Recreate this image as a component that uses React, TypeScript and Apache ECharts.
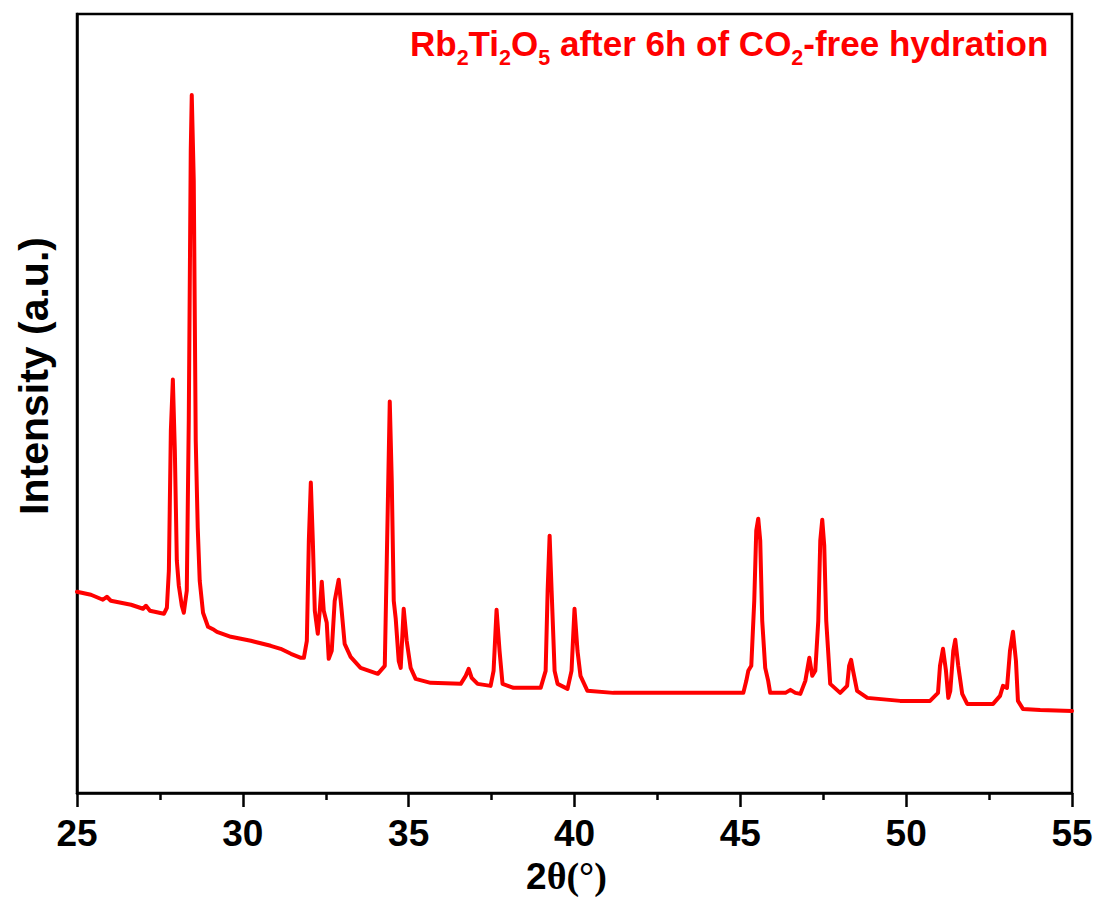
import React, { useEffect, useRef } from "react";
import * as echarts from "echarts";

// 2θ (degrees) positions of the sampled pattern
const twoTheta: number[] = [
  25.0, 25.42, 25.78, 25.9, 26.02, 26.63, 26.99, 27.08, 27.2, 27.62,
  27.71, 27.77, 27.83, 27.89, 27.95, 28.01, 28.07, 28.16, 28.22, 28.31,
  28.37, 28.43, 28.46, 28.52, 28.58, 28.64, 28.7, 28.8, 28.95, 29.13,
  29.22, 29.64, 30.24, 30.84, 31.14, 31.45, 31.75, 31.84, 31.93, 31.99,
  32.05, 32.11, 32.17, 32.26, 32.32, 32.38, 32.44, 32.53, 32.59, 32.68,
  32.77, 32.89, 32.98, 33.07, 33.25, 33.55, 34.07, 34.28, 34.34, 34.43,
  34.49, 34.55, 34.61, 34.7, 34.76, 34.85, 34.94, 35.06, 35.21, 35.66,
  36.57, 36.72, 36.81, 36.9, 37.08, 37.47, 37.56, 37.65, 37.74, 37.83,
  38.16, 38.98, 39.13, 39.19, 39.25, 39.31, 39.4, 39.49, 39.79, 39.91,
  40.0, 40.09, 40.18, 40.39, 41.17, 42.29, 43.8, 45.09, 45.18, 45.24,
  45.33, 45.42, 45.48, 45.54, 45.6, 45.66, 45.75, 45.84, 45.9, 46.36,
  46.51, 46.66, 46.81, 46.96, 47.08, 47.17, 47.26, 47.35, 47.41, 47.47,
  47.53, 47.59, 47.71, 48.01, 48.22, 48.28, 48.34, 48.4, 48.52, 48.83,
  49.82, 50.72, 50.96, 51.02, 51.11, 51.2, 51.27, 51.33, 51.42, 51.48,
  51.57, 51.69, 51.84, 52.62, 52.83, 52.92, 53.04, 53.13, 53.22, 53.31,
  53.37, 53.52, 54.04, 55.0,
];

// Intensity (a.u.) at each 2θ position
const intensity: number[] = [
  201, 198, 193, 196, 192, 188, 184, 187, 182, 179,
  185, 222, 362, 413, 342, 232, 207, 187, 180, 202,
  372, 642, 697, 612, 352, 265, 212, 180, 166, 163,
  161, 156, 152, 147, 144, 139, 135, 135, 152, 252,
  310, 252, 182, 159, 182, 211, 182, 170, 134, 142,
  192, 213, 182, 149, 136, 125, 119, 127, 232, 391,
  312, 192, 174, 132, 125, 184, 152, 125, 114, 110,
  109, 117, 124, 115, 109, 107, 122, 183, 142, 109,
  105, 105, 122, 202, 257, 202, 122, 109, 104, 122,
  184, 142, 117, 102, 100, 100, 100, 100, 112, 122,
  127, 192, 262, 274, 252, 172, 125, 112, 100, 100,
  103, 100, 99, 112, 135, 117, 122, 172, 252, 273,
  247, 172, 109, 100, 107, 127, 133, 122, 102, 95,
  92, 92, 100, 127, 144, 122, 95, 102, 142, 153,
  127, 99, 89, 89, 97, 107, 105, 142, 161, 132,
  92, 84, 83, 82,
];

const xTicks = { min: 25, max: 55, interval: 5 };
const yRange = { min: 0, max: 778 };
const yTitle = "Intensity (a.u.)";

export default function App() {
  const ref = useRef<HTMLDivElement>(null);

  useEffect(() => {
    if (!ref.current) return;
    const chart = echarts.init(ref.current, null, { renderer: "svg" });
    const data = twoTheta.map((x, i) => [x, intensity[i]]);
    const sans = "'Liberation Sans', Arial, sans-serif";
    const serif = "'Liberation Serif', 'Times New Roman', serif";

    chart.setOption({
      animation: false,
      backgroundColor: "#ffffff",
      title: {
        left: 410,
        top: 18,
        padding: 0,
        text:
          "{n|Rb}{s|2}{n|Ti}{s|2}{n|O}{s|5}{n| after 6h of CO}{s|2}{n|-free hydration}",
        textStyle: {
          rich: {
            n: {
              fontFamily: sans,
              fontWeight: "bold",
              fontSize: 35,
              color: "#ff0000",
              verticalAlign: "middle",
            },
            s: {
              fontFamily: sans,
              fontWeight: "bold",
              fontSize: 21.5,
              color: "#ff0000",
              verticalAlign: "middle",
              padding: [29, 0, 0, 0],
            },
          },
        },
      },
      graphic: [
        {
          type: "text",
          x: 34,
          y: 376,
          rotation: Math.PI / 2,
          style: {
            text: yTitle,
            fontFamily: sans,
            fontWeight: "bold",
            fontSize: 41,
            fill: "#000000",
            align: "center",
            verticalAlign: "middle",
          },
        },
      ],
      grid: {
        left: 77,
        right: 27,
        top: 14,
        bottom: 109,
        show: true,
        borderColor: "#000000",
        borderWidth: 2.5,
        backgroundColor: "transparent",
      },
      xAxis: {
        type: "value",
        min: xTicks.min,
        max: xTicks.max,
        interval: xTicks.interval,
        name: "{a|2}{b|θ(°)}",
        nameLocation: "middle",
        nameGap: 64,
        nameTextStyle: {
          padding: [0, 16, 0, 0],
          rich: {
            a: {
              fontFamily: sans,
              fontWeight: "bold",
              fontSize: 37,
              color: "#000000",
            },
            b: {
              fontFamily: serif,
              fontWeight: "bold",
              fontSize: 38,
              color: "#000000",
            },
          },
        },
        axisLine: { show: true, lineStyle: { color: "#000000", width: 2.5 } },
        axisTick: { show: true, inside: false, length: 14, lineStyle: { color: "#000000", width: 2.5 } },
        minorTick: { show: true, splitNumber: 2, length: 7, lineStyle: { color: "#000000", width: 2.5 } },
        axisLabel: {
          margin: 22,
          fontFamily: sans,
          fontWeight: "bold",
          fontSize: 37,
          color: "#000000",
        },
        splitLine: { show: false },
      },
      yAxis: {
        type: "value",
        min: yRange.min,
        max: yRange.max,
        axisLine: { show: true, lineStyle: { color: "#000000", width: 2.5 } },
        axisTick: { show: false },
        axisLabel: { show: false },
        splitLine: { show: false },
      },
      series: [
        {
          type: "line",
          data,
          showSymbol: false,
          symbol: "none",
          lineStyle: { color: "#ff0000", width: 4, join: "round", cap: "round" },
          clip: true,
        },
      ],
    });

    return () => chart.dispose();
  }, []);

  return (
    <div
      ref={ref}
      style={{ position: "fixed", left: 0, top: 0, width: 1099, height: 902, background: "#fff" }}
    />
  );
}
